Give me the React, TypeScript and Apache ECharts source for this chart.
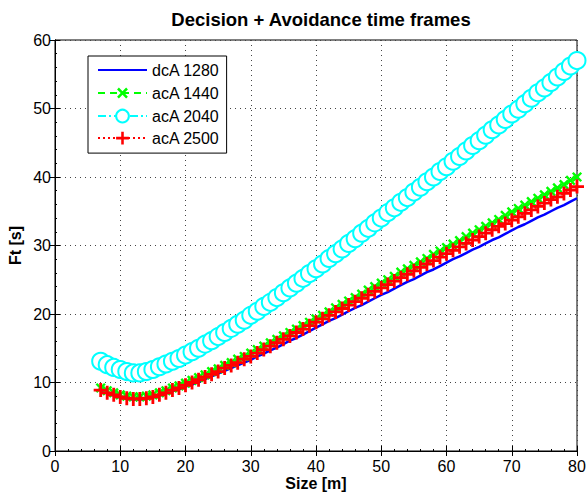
import React, { useEffect, useRef } from "react";
import * as echarts from "echarts";

const sizes = [7, 8, 9, 10, 11, 12, 13, 14, 15, 16, 17, 18, 19, 20, 21, 22, 23, 24, 25, 26, 27, 28, 29, 30, 31, 32, 33, 34, 35, 36, 37, 38, 39, 40, 41, 42, 43, 44, 45, 46, 47, 48, 49, 50, 51, 52, 53, 54, 55, 56, 57, 58, 59, 60, 61, 62, 63, 64, 65, 66, 67, 68, 69, 70, 71, 72, 73, 74, 75, 76, 77, 78, 79, 80];

const dcA1280 = [8.8, 8.4, 8.1, 7.8, 7.6, 7.5, 7.5, 7.6, 7.8, 8.1, 8.4, 8.7, 9.0, 9.4, 9.7, 10.1, 10.5, 10.9, 11.3, 11.7, 12.1, 12.5, 12.9, 13.3, 13.8, 14.2, 14.7, 15.1, 15.6, 16.1, 16.5, 17.0, 17.5, 18.0, 18.5, 19.0, 19.4, 19.9, 20.4, 20.9, 21.3, 21.8, 22.3, 22.8, 23.2, 23.7, 24.2, 24.7, 25.1, 25.6, 26.1, 26.5, 27.0, 27.5, 28.0, 28.4, 28.9, 29.4, 29.8, 30.3, 30.8, 31.2, 31.7, 32.2, 32.7, 33.1, 33.6, 34.1, 34.5, 35.0, 35.5, 35.9, 36.4, 36.9];

const acA1440 = [9.2, 8.8, 8.5, 8.2, 8.0, 7.9, 7.9, 8.0, 8.2, 8.5, 8.8, 9.2, 9.5, 9.9, 10.3, 10.7, 11.1, 11.6, 12.0, 12.5, 12.9, 13.4, 13.8, 14.3, 14.8, 15.3, 15.8, 16.3, 16.8, 17.3, 17.8, 18.3, 18.8, 19.3, 19.8, 20.3, 20.9, 21.4, 21.9, 22.4, 22.9, 23.5, 24.0, 24.5, 25.0, 25.5, 26.1, 26.6, 27.1, 27.6, 28.1, 28.7, 29.2, 29.7, 30.2, 30.7, 31.3, 31.8, 32.3, 32.8, 33.3, 33.8, 34.4, 34.9, 35.4, 35.9, 36.4, 36.9, 37.4, 37.9, 38.4, 38.9, 39.5, 40.0];

const acA2040 = [13.1, 12.6, 12.2, 11.9, 11.6, 11.4, 11.4, 11.6, 11.9, 12.3, 12.7, 13.1, 13.5, 14.0, 14.5, 15.0, 15.6, 16.1, 16.7, 17.3, 17.9, 18.5, 19.1, 19.8, 20.4, 21.1, 21.7, 22.4, 23.1, 23.8, 24.5, 25.2, 25.9, 26.6, 27.3, 28.1, 28.8, 29.5, 30.3, 31.0, 31.8, 32.5, 33.3, 34.0, 34.8, 35.5, 36.3, 37.0, 37.8, 38.5, 39.3, 40.0, 40.8, 41.5, 42.3, 43.0, 43.8, 44.6, 45.3, 46.1, 46.9, 47.6, 48.4, 49.2, 49.9, 50.7, 51.5, 52.3, 53.0, 53.8, 54.6, 55.4, 56.2, 57.0];

const acA2500 = [8.9, 8.5, 8.2, 7.9, 7.7, 7.6, 7.6, 7.7, 7.9, 8.2, 8.5, 8.9, 9.2, 9.6, 10.0, 10.4, 10.8, 11.2, 11.6, 12.1, 12.5, 12.9, 13.4, 13.8, 14.3, 14.8, 15.3, 15.8, 16.3, 16.8, 17.3, 17.8, 18.3, 18.8, 19.3, 19.8, 20.3, 20.8, 21.3, 21.8, 22.3, 22.8, 23.3, 23.8, 24.3, 24.8, 25.3, 25.8, 26.3, 26.8, 27.3, 27.8, 28.3, 28.8, 29.3, 29.8, 30.3, 30.8, 31.3, 31.8, 32.3, 32.8, 33.2, 33.7, 34.2, 34.7, 35.2, 35.7, 36.2, 36.7, 37.1, 37.6, 38.1, 38.6];

const seriesNames = ["dcA 1280", "acA 1440", "acA 2040", "acA 2500"];
const titleText = "Decision + Avoidance time frames";
const xLabel = "Size [m]";
const yLabel = "Ft [s]";

const FONT = "'Liberation Sans', Arial, Helvetica, sans-serif";
const PLUS = "path://M4,0H6V4H10V6H6V10H4V6H0V4H4Z";

function pairs(ys: number[]) {
  return sizes.map((x, i) => [x, ys[i]]);
}

export default function App() {
  const ref = useRef<HTMLDivElement>(null);
  useEffect(() => {
    if (!ref.current) return;
    const chart = echarts.init(ref.current, null, { renderer: "svg" });
    const tickLabel = { color: "#000", fontFamily: FONT, fontSize: 16 };
    const nameStyle = { fontFamily: FONT, fontSize: 16, fontWeight: "bold", color: "#000" };
    const gridLine = { show: true, lineStyle: { color: "#444", type: [1, 4], width: 1 } };
    const boxAxis = {
      axisLine: { show: true, lineStyle: { color: "#000" } },
      axisTick: { show: true, inside: true, length: 5, lineStyle: { color: "#000" } },
      axisLabel: { show: false },
      splitLine: { show: false },
    };
    chart.setOption({
      animation: false,
      backgroundColor: "#fff",
      title: {
        text: titleText,
        left: 316,
        textAlign: "center",
        top: 5,
        textStyle: { fontFamily: FONT, fontSize: 18.5, fontWeight: "bold", color: "#000" },
      },
      legend: {
        orient: "vertical",
        left: 88,
        top: 56,
        itemWidth: 49,
        itemHeight: 16,
        itemGap: 6,
        padding: [6, 7, 7, 9],
        borderColor: "#000",
        borderWidth: 1,
        backgroundColor: "#fff",
        textStyle: { fontFamily: FONT, fontSize: 16, lineHeight: 16, color: "#000" },
        data: seriesNames,
      },
      grid: {
        left: 55,
        right: 10,
        top: 40,
        bottom: 42,
        containLabel: false,
        outerBoundsMode: "none",
        show: true,
        borderColor: "#000",
        borderWidth: 1,
      },
      xAxis: [
        {
          type: "value",
          min: 0,
          max: 80,
          interval: 10,
          name: xLabel,
          nameLocation: "middle",
          nameGap: 24,
          nameMoveOverlap: false,
          nameTextStyle: nameStyle,
          axisLine: { show: true, lineStyle: { color: "#000" } },
          axisTick: { show: true, inside: true, length: 5, lineStyle: { color: "#000" } },
          minorTick: { show: true, splitNumber: 5, length: 2, lineStyle: { color: "#000" } },
          axisLabel: { ...tickLabel, margin: 7 },
          splitLine: gridLine,
        },
        { type: "value", position: "top", min: 0, max: 80, interval: 10, ...boxAxis },
      ],
      yAxis: [
        {
          type: "value",
          min: 0,
          max: 60,
          interval: 10,
          name: yLabel,
          nameLocation: "middle",
          nameGap: 32,
          nameMoveOverlap: false,
          nameTextStyle: nameStyle,
          axisLine: { show: true, lineStyle: { color: "#000" } },
          axisTick: { show: true, inside: true, length: 5, lineStyle: { color: "#000" } },
          minorTick: { show: true, splitNumber: 5, length: 2, lineStyle: { color: "#000" } },
          axisLabel: { ...tickLabel, margin: 4 },
          splitLine: gridLine,
        },
        { type: "value", position: "right", min: 0, max: 60, interval: 10, ...boxAxis },
      ],
      series: [
        {
          name: seriesNames[0],
          type: "line",
          data: pairs(dcA1280),
          showSymbol: false,
          symbol: "circle",
          symbolSize: 0,
          lineStyle: { color: "#0000ff", width: 2.5 },
          itemStyle: { color: "rgba(0,0,0,0)" },
        },
        {
          name: seriesNames[1],
          type: "line",
          data: pairs(acA1440),
          symbol: PLUS,
          symbolRotate: 45,
          symbolSize: 12,
          lineStyle: { color: "#00ff00", width: 2.5, type: [7, 5] },
          itemStyle: { color: "#00ff00" },
        },
        {
          name: seriesNames[2],
          type: "line",
          data: pairs(acA2040),
          symbol: "emptyCircle",
          symbolSize: 17,
          lineStyle: { color: "#00ffff", width: 2, type: [8, 3, 2, 3] },
          itemStyle: { color: "#00ffff", borderColor: "#00ffff", borderWidth: 2.5 },
        },
        {
          name: seriesNames[3],
          type: "line",
          data: pairs(acA2500),
          symbol: PLUS,
          symbolSize: 14,
          lineStyle: { color: "#ff0000", width: 2, type: [2, 3] },
          itemStyle: { color: "#ff0000" },
        },
      ],
    });
    return () => chart.dispose();
  }, []);
  return <div ref={ref} style={{ width: 587, height: 493, position: "absolute", left: 0, top: 0 }} />;
}
